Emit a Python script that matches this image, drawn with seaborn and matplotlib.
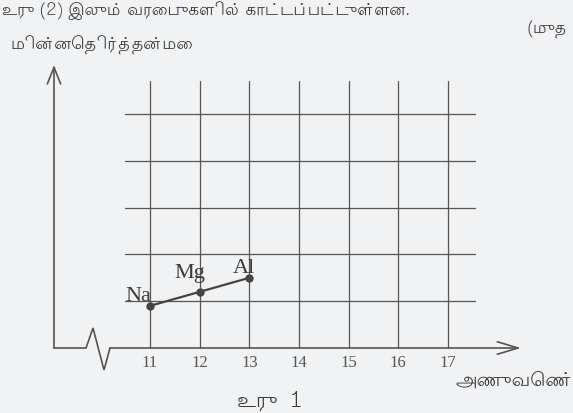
import matplotlib
matplotlib.use("Agg")
import matplotlib.pyplot as plt
import seaborn as sns
import pandas as pd

# data
elements = ["Na", "Mg", "Al"]
atomic_number = [11, 12, 13]
electronegativity = [0.9, 1.2, 1.5]
x_ticks = [11, 12, 13, 14, 15, 16, 17]
y_grid = [1, 2, 3, 4, 5]

BG = "#f1f2f4"
INK = "#555555"
TEXT = "#3a3a3a"
TAMIL = ["Lohit Tamil", "Noto Sans Tamil", "DejaVu Sans"]

sns.set_theme(style="white", rc={"figure.facecolor": BG, "axes.facecolor": BG})

W, H = 573, 414
fig = plt.figure(figsize=(W / 100, H / 100), dpi=100)
ax = fig.add_axes([0, 0, 1, 1])

# pixel layout of the scan: x=11 at 150px, 49.67px per unit; y=0 at 349px from top, 46.8px per unit
PX_X, X11 = 49.67, 150
PX_Y, Y0 = 46.8, 349
ax.set_xlim(11 - X11 / PX_X, 11 + (W - X11) / PX_X)
ax.set_ylim(-(H - Y0) / PX_Y, Y0 / PX_Y)
ax.axis("off")


def dx(px):
    return 11 + (px - X11) / PX_X


def dy(py):
    return (Y0 - py) / PX_Y


# grid
for xv in x_ticks:
    ax.plot([xv, xv], [0, dy(82)], color=INK, lw=0.9, zorder=1)
for yv in y_grid:
    ax.plot([dx(125), dx(475)], [yv, yv], color=INK, lw=0.9, zorder=1)

# y axis with arrow
ax.annotate("", xy=(dx(54), dy(66)), xytext=(dx(54), 0),
            arrowprops=dict(arrowstyle="->,head_length=0.8,head_width=0.32",
                            color=INK, lw=1.2, mutation_scale=15, shrinkA=0, shrinkB=0))
# x axis with break zigzag and arrow
ax.plot([dx(54), dx(86), dx(93), dx(104), dx(110)],
        [0, 0, dy(329), dy(371), 0], color=INK, lw=1.2, solid_joinstyle="miter")
ax.annotate("", xy=(dx(521), 0), xytext=(dx(110), 0),
            arrowprops=dict(arrowstyle="->,head_length=1.0,head_width=0.3",
                            color=INK, lw=1.2, mutation_scale=15, shrinkA=0, shrinkB=0))

# tick labels
for xv in x_ticks:
    ax.text(xv, dy(363), str(xv), ha="center", va="center", fontsize=12,
            family="Liberation Serif", color=INK)

# data line
df = pd.DataFrame({"Z": atomic_number, "EN": electronegativity, "el": elements})
sns.lineplot(data=df, x="Z", y="EN", ax=ax, color="#444444", lw=1.6,
             marker="o", markersize=6, markeredgewidth=0, zorder=3)
offsets = {"Na": (-12, 6), "Mg": (-10, 15), "Al": (-5, 6)}
for z, en, el in zip(atomic_number, electronegativity, elements):
    ox, oy = offsets[el]
    ax.annotate(el, (z, en), xytext=(ox, oy), textcoords="offset pixels",
                ha="center", va="baseline", fontsize=16, family="Liberation Serif",
                color=TEXT)

# surrounding texts of the page
fig.text(10 / W, 1 - 45 / H, "மின்னெதிர்த்தன்மை", ha="left", va="center",
         fontsize=12.5, family=TAMIL, color=TEXT)
fig.text(455 / W, 1 - 381 / H, "அணுவெண்", ha="left", va="center",
         fontsize=14, family=TAMIL, color=TEXT)
fig.text(270 / W, 1 - 401 / H, "உரு  1", ha="center", va="center",
         fontsize=15, family=TAMIL, color=TEXT)
fig.text(527 / W, 1 - 30 / H, "(முத", ha="left", va="center",
         fontsize=12, family=TAMIL, color=TEXT)
fig.text(2 / W, 1 - 1 / H, "உரு (2) இலும் வரைபுகளில் காட்டப்பட்டுள்ளன.", ha="left",
         va="top", fontsize=12, family=TAMIL, color=TEXT)

fig.savefig("out.png", dpi=100, facecolor=BG)
